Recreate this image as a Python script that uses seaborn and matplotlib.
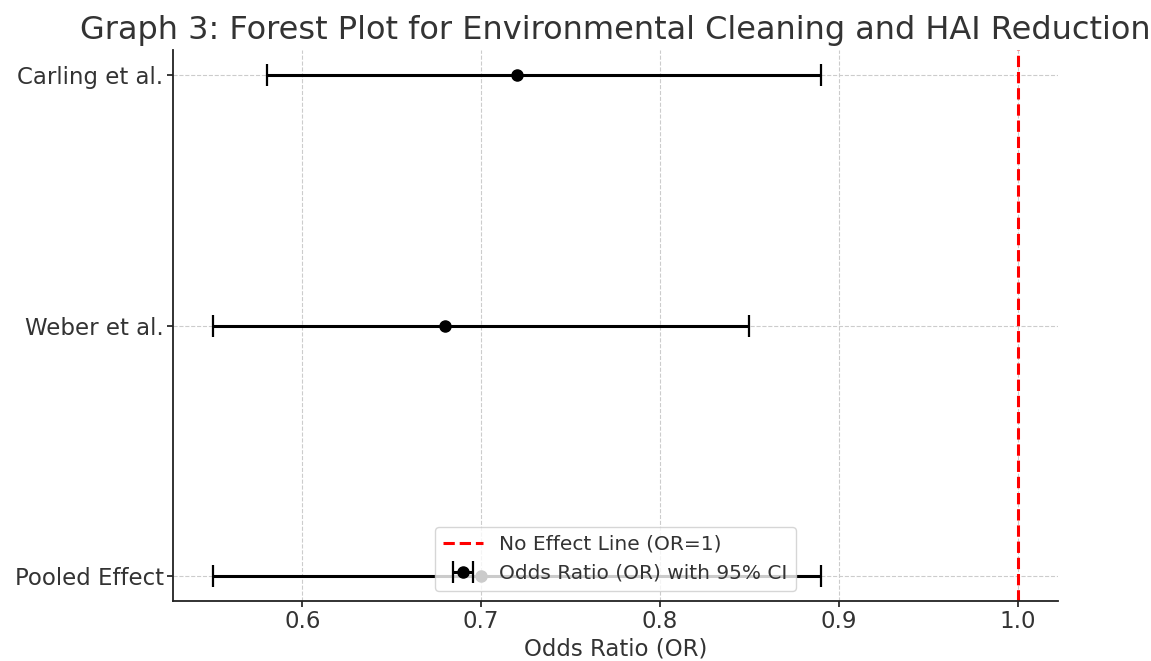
import matplotlib
matplotlib.use("Agg")
import matplotlib.pyplot as plt
import seaborn as sns
import numpy as np
import pandas as pd

studies = ["Carling et al.", "Weber et al.", "Pooled Effect"]
odds_ratio = [0.72, 0.68, 0.70]
ci_lower = [0.58, 0.55, 0.55]
ci_upper = [0.89, 0.85, 0.89]

df = pd.DataFrame({"study": studies, "or": odds_ratio, "lo": ci_lower, "hi": ci_upper})

sns.set_theme(style="ticks")
plt.rcParams["font.family"] = ["DejaVu Sans"]
text_color = "#333333"

fig = plt.figure(figsize=(11.51, 6.61), dpi=100)
ax = fig.add_axes([0.150, 0.091, 0.769, 0.833])

ypos = np.arange(len(df))[::-1]
xerr = np.array([df["or"] - df["lo"], df["hi"] - df["or"]])
ax.axvline(1.0, color="red", linestyle="--", linewidth=2.2, label="No Effect Line (OR=1)")
ax.errorbar(df["or"], ypos, xerr=xerr, fmt="o", color="black", ecolor="black",
            elinewidth=2.2, capsize=8, capthick=1.6, markersize=8,
            label="Odds Ratio (OR) with 95% CI")

ax.set_yticks(ypos)
ax.set_yticklabels(df["study"])
ax.set_xticks([0.6, 0.7, 0.8, 0.9, 1.0])
ax.grid(True, linestyle="--", color="#cccccc", linewidth=0.8)
ax.set_axisbelow(True)
sns.despine(ax=ax)
for s in ["left", "bottom"]:
    ax.spines[s].set_color("#222222")
    ax.spines[s].set_linewidth(1.3)

ax.tick_params(axis="both", labelsize=16.5, colors="#222222", labelcolor=text_color,
               length=4, pad=2.5)
ax.set_xlabel("Odds Ratio (OR)", fontsize=16.5, color=text_color, labelpad=3)
ax.set_title("Graph 3: Forest Plot for Environmental Cleaning and HAI Reduction",
             fontsize=23, color=text_color, pad=8)
leg = ax.legend(loc="lower center", fontsize=14.5, framealpha=0.8)
for t in leg.get_texts():
    t.set_color(text_color)

fig.savefig("out.png", dpi=100)
